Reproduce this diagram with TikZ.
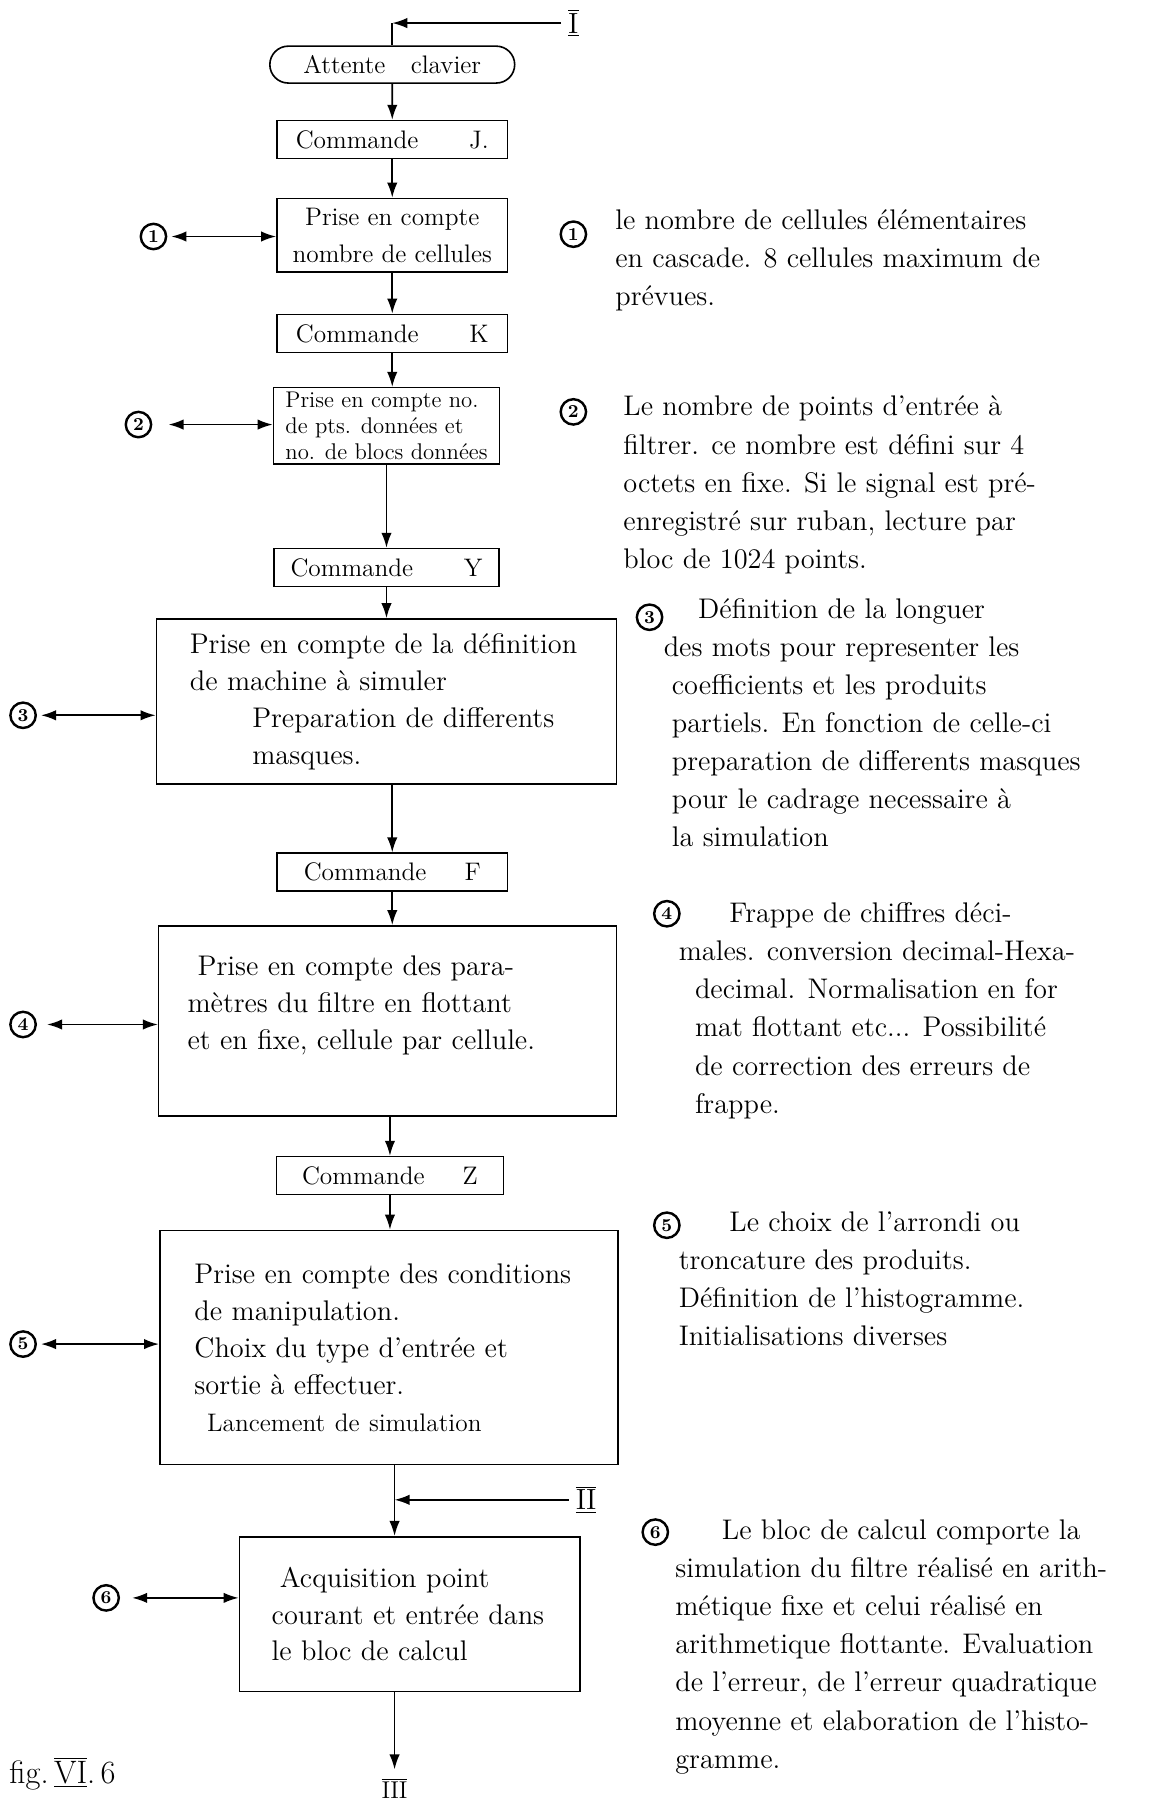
\documentclass[tikz,border=0pt]{standalone}
\usepackage{fontspec}
\usepackage{tikz}
\usetikzlibrary{arrows.meta, positioning, shapes.misc, calc}

\newcommand{\notefont}{\fontsize{14}{18.8}\selectfont}
\newcommand{\boxfont}{\fontsize{12.5}{18}\selectfont}
\newcommand{\bigfont}{\fontsize{14}{18.2}\selectfont}

\begin{document}
\begin{tikzpicture}[x=0.02cm, y=-0.02cm,
  box/.style={rectangle, draw, thick, align=center, font=\boxfont, inner sep=2pt},
  cmdbox/.style={box, minimum width=4cm, minimum height=0.66cm},
  bigbox/.style={box, align=left, font=\bigfont},
  startbox/.style={rounded rectangle, draw, thick, minimum width=4.48cm,
    minimum height=0.64cm, font=\boxfont},
  num/.style={circle, draw, very thick, inner sep=0pt, minimum size=0.44cm,
    font=\bfseries\small},
  note/.style={anchor=north west, align=left, inner sep=0pt, font=\notefont},
  conn/.style={font=\Large},
  arr/.style={-{Latex[length=2.6mm, width=1.8mm]}, thick},
  darr/.style={{Latex[length=2.6mm, width=1.8mm]}-{Latex[length=2.6mm, width=1.8mm]},
    thick, shorten <=2pt}
]
\useasboundingbox (0,0) rectangle (997,1568);

% main chain
\node[conn] (inI) at (497,20) {$\underline{\overline{\mathrm{I}}}$};
\node[startbox] (wait) at (340,56) {Attente\quad clavier};
\node[cmdbox] (cmdJ) at (340,121) {Commande\hspace{2em}J.};
\node[box, minimum width=4cm, minimum height=1.28cm] (cells) at (340,204)
  {Prise en compte\\ nombre de cellules};
\node[cmdbox] (cmdK) at (340,289) {Commande\hspace{2em}K};
\node[box, minimum width=3.92cm, minimum height=1.32cm, align=left,
  font=\fontsize{11.2}{12.8}\selectfont] (pts) at (335,369)
  {Prise en compte no.\\ de pts. données et\\ no. de blocs données};
\node[cmdbox, minimum width=3.9cm] (cmdY) at (335,492) {Commande\hspace{2em}Y};
\node[bigbox, text width=6.82cm, inner xsep=0.58cm, minimum height=2.86cm] (machine)
  at (335,608)
  {Prise en compte de la définition\\ de machine à simuler\\
   \hspace*{2.2em}Preparation de differents\\ \hspace*{2.2em}masques.};
\node[cmdbox] (cmdF) at (340,756) {Commande\hspace{1.5em}F};
\node[bigbox, text width=6.94cm, inner xsep=0.5cm, minimum height=3.3cm] (params)
  at (336,885)
  {\hspace*{5pt}Prise en compte des para-\\ mètres du filtre en flottant\\
   et en fixe, cellule par cellule.\\ \mbox{}};
\node[cmdbox, minimum width=3.94cm] (cmdZ) at (338,1019) {Commande\hspace{1.5em}Z};
\node[bigbox, text width=6.74cm, inner xsep=0.6cm, minimum height=4.06cm] (cond)
  at (337,1168)
  {Prise en compte des conditions\\ de manipulation.\\
   Choix du type d'entrée et\\ sortie à effectuer.\\
   {\fontsize{12.5}{14}\selectfont\hspace*{0.5em}Lancement de simulation}};
\coordinate (jII) at (342,1300);
\node[conn] (inII) at (508,1300) {$\underline{\overline{\mathrm{II}}}$};
\node[bigbox, text width=4.78cm, inner xsep=0.56cm, minimum height=2.68cm] (acq)
  at (355,1399)
  {\hspace*{4pt}Acquisition point\\ courant et entrée dans\\ le bloc de calcul};
\node[conn, font=\large, inner sep=1pt] (outIII) at (342,1550) {$\overline{\mathrm{III}}$};

\coordinate (jI) at (340,20);
\draw[arr] (inI.west) -- (jI);
\draw[thick] (jI) -- (wait.north);
\draw[arr] (wait) -- (cmdJ);
\draw[arr] (cmdJ) -- (cells);
\draw[arr] (cells) -- (cmdK);
\draw[arr] (cmdK.south) -- (cmdK.south |- pts.north);
\draw[arr] (pts.south) -- (pts.south |- cmdY.north);
\draw[arr] (cmdY.south) -- (cmdY.south |- machine.north);
\draw[arr] (machine.south -| cmdF.north) -- (cmdF.north);
\draw[arr] (cmdF.south) -- (cmdF.south |- params.north);
\draw[arr] (params.south -| cmdZ.north) -- (cmdZ.north);
\draw[arr] (cmdZ.south) -- (cmdZ.south |- cond.north);
\draw[thick] (cond.south -| jII) -- (jII);
\draw[arr] (inII.west) -- (jII);
\draw[arr] (jII) -- (jII |- acq.north);
\draw[arr, shorten >=3pt] (acq.south -| jII) -- (outIII.north);

% side links
\node[num] (n1) at (133,205) {1};
\node[num] (n2) at (120,368) {2};
\node[num] (n3) at (20,620) {3};
\node[num] (n4) at (20,888) {4};
\node[num] (n5) at (20,1165) {5};
\node[num] (n6) at (92,1385) {6};
\draw[darr] (n1.east) -- (n1 -| cells.west);
\draw[darr, shorten <=8pt] (n2.east) -- (n2 -| pts.west);
\draw[darr] (n3.east) -- (n3 -| machine.west);
\draw[darr, shorten <=5pt] (n4.east) -- (n4 -| params.west);
\draw[darr] (n5.east) -- (n5 -| cond.west);
\draw[darr, shorten <=6pt] (n6.east) -- (n6 -| acq.west);

% notes
\node[num] (a1) at (497,203) {1};
\node[note] (t1) at (533,181)
  {le nombre de cellules élémentaires\\ en cascade. 8 cellules maximum de\\ prévues.};
\node[num] (a2) at (497,357) {2};
\node[note] (t2) at (540,343)
  {Le nombre de points d'entrée à\\ filtrer. ce nombre est défini sur 4\\
   octets en fixe. Si le signal est pré-\\ enregistré sur ruban, lecture par\\
   bloc de 1024 points.};
\node[num] (a3) at (563,535) {3};
\node[note] (t3) at (575,518)
  {\hspace*{17pt}Définition de la longuer\\ des mots pour representer les\\
   \hspace*{4pt}coefficients et les produits\\ \hspace*{4pt}partiels. En fonction de celle-ci\\
   \hspace*{4pt}preparation de differents masques\\ \hspace*{4pt}pour le cadrage necessaire à\\
   \hspace*{4pt}la simulation};
\node[num] (a4) at (578,792) {4};
\node[note] (t4) at (588,782)
  {\hspace*{25pt}Frappe de chiffres déci-\\ males. conversion decimal-Hexa-\\
   \hspace*{8pt}decimal. Normalisation en for\\ \hspace*{8pt}mat flottant etc... Possibilité\\
   \hspace*{8pt}de correction des erreurs de\\ \hspace*{8pt}frappe.};
\node[num] (a5) at (578,1062) {5};
\node[note] (t5) at (588,1050)
  {\hspace*{25pt}Le choix de l'arrondi ou\\ troncature des produits.\\
   Définition de l'histogramme.\\ Initialisations diverses};
\node[num] (a6) at (568,1328) {6};
\node[note] (t6) at (585,1317)
  {\hspace*{23pt}Le bloc de calcul comporte la\\ simulation du filtre réalisé en arith-\\
   métique fixe et celui réalisé en\\ arithmetique flottante. Evaluation\\
   de l'erreur, de l'erreur quadratique\\ moyenne et elaboration de l'histo-\\ gramme.};

\node[anchor=west, font=\fontsize{16}{18}\selectfont] (figlab) at (2,1537)
  {fig.\,$\underline{\overline{\mathrm{VI}}}$.\,6};
\end{tikzpicture}
\end{document}
